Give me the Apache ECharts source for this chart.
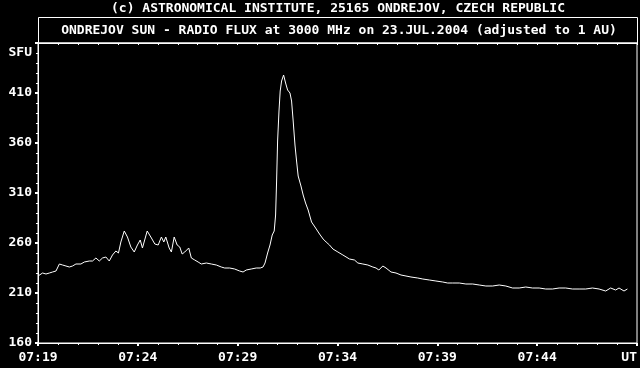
<!DOCTYPE html>
<html>
<head>
<meta charset="utf-8">
<script src="https://cdn.jsdelivr.net/npm/echarts@6/dist/echarts.min.js"></script>
<style>
html,body{margin:0;padding:0;background:#000;}
#chart{width:640px;height:368px;}
</style>
</head>
<body>
<div id="chart"></div>
<script>
// Minutes after 07:19 UT
var minutes = [0.00,0.23,0.40,0.57,0.73,0.90,1.07,1.23,1.40,1.57,1.73,1.90,2.15,2.32,2.57,2.73,2.90,3.07,3.23,3.40,3.57,3.73,3.90,4.03,4.15,4.32,4.48,4.65,4.82,4.98,5.12,5.23,5.47,5.68,5.85,6.02,6.18,6.30,6.40,6.57,6.68,6.82,6.97,7.10,7.22,7.35,7.55,7.68,7.85,8.02,8.18,8.43,8.68,8.93,9.18,9.35,9.60,9.85,10.10,10.27,10.43,10.68,10.93,11.13,11.27,11.37,11.50,11.62,11.73,11.83,11.90,11.95,12.00,12.07,12.13,12.20,12.30,12.40,12.50,12.62,12.70,12.78,12.87,12.95,13.03,13.17,13.28,13.40,13.53,13.70,13.87,14.10,14.28,14.43,14.60,14.77,15.02,15.27,15.60,15.85,16.02,16.27,16.52,16.77,16.93,17.07,17.27,17.43,17.68,17.93,18.18,18.43,18.68,19.02,19.27,19.60,19.93,20.27,20.52,20.77,21.10,21.43,21.77,22.10,22.43,22.77,23.10,23.43,23.77,24.10,24.43,24.77,25.10,25.43,25.77,26.10,26.43,26.77,27.10,27.43,27.77,28.10,28.43,28.68,28.93,29.10,29.35,29.52];
// Radio flux, SFU
var flux = [227,230,229,230,231,232,239,238,237,236,237,239,239,241,242,242,245,242,245,246,242,248,252,250,261,272,266,256,251,258,263,255,272,265,259,258,266,261,266,255,251,266,258,256,249,251,255,245,243,241,239,240,239,238,236,235,235,234,232,231,233,234,235,235,236,240,250,258,268,272,288,322,362,392,412,422,428,420,413,410,402,382,358,342,327,317,308,300,293,281,276,269,264,261,258,254,251,248,244,243,240,239,238,236,235,233,237,235,231,230,228,227,226,225,224,223,222,221,220,220,220,219,219,218,217,217,218,217,215,215,216,215,215,214,214,215,215,214,214,214,215,214,212,215,213,215,212,214];
var xTickLabels = ['07:19','07:24','07:29','07:34','07:39','07:44','UT'];
var yTickLabels = ['160','210','260','310','360','410'];
var titleTop = '(c) ASTRONOMICAL INSTITUTE, 25165 ONDREJOV, CZECH REPUBLIC';
var titleBox = 'ONDREJOV SUN - RADIO FLUX at 3000 MHz on 23.JUL.2004 (adjusted to 1 AU)';
var unitLabel = 'SFU';

var FONT = 'DejaVu Sans Mono';
var chart = echarts.init(document.getElementById('chart'), null, {renderer:'canvas'});
var data = minutes.map(function(m,i){return [m, flux[i]];});
var white = '#ffffff';

chart.setOption({
  backgroundColor: '#000000',
  animation: false,
  grid: {left:38, right:2, top:43, bottom:25, show:true, borderColor:white, borderWidth:1, backgroundColor:'transparent'},
  graphic: [
    {type:'text', x:338, y:9, style:{text:titleTop, fill:white, font:'bold 13px "DejaVu Sans Mono"', align:'center', verticalAlign:'middle', textAlign:'center', textVerticalAlign:'middle'}},
    {type:'rect', shape:{x:38.5, y:17.5, width:599, height:25.5}, style:{stroke:white, fill:'none', lineWidth:1}},
    {type:'text', x:339, y:31, style:{text:titleBox, fill:white, font:'bold 13px "DejaVu Sans Mono"', align:'center', verticalAlign:'middle', textAlign:'center', textVerticalAlign:'middle'}},
    {type:'text', x:32, y:53, style:{text:unitLabel, fill:white, font:'bold 13px "DejaVu Sans Mono"', align:'right', verticalAlign:'middle', textAlign:'right', textVerticalAlign:'middle'}}
  ],
  xAxis: [
    {type:'value', min:0, max:30, interval:5, position:'bottom',
     axisLine:{show:true, lineStyle:{color:white, width:1}},
     axisTick:{show:true, inside:false, length:3, lineStyle:{color:white, width:2}},
     minorTick:{show:true, splitNumber:5, length:2, lineStyle:{color:white, width:1}},
     splitLine:{show:false},
     axisLabel:{color:white, fontFamily:FONT, fontWeight:'bold', fontSize:13, margin:8, alignMaxLabel:'right',
       formatter:function(v){return xTickLabels[Math.round(v/5)] || '';}}},
    {type:'value', min:0, max:30, interval:1, position:'top',
     axisLine:{show:true, lineStyle:{color:white, width:1}},
     axisTick:{show:true, inside:true, length:2, lineStyle:{color:white, width:1}},
     splitLine:{show:false}, axisLabel:{show:false}}
  ],
  yAxis: [
    {type:'value', min:160, max:460, interval:50, position:'left',
     axisLine:{show:true, lineStyle:{color:white, width:1}},
     axisTick:{show:true, inside:false, length:3, lineStyle:{color:white, width:2}},
     minorTick:{show:true, splitNumber:5, length:2, lineStyle:{color:white, width:1}},
     splitLine:{show:false},
     axisLabel:{color:white, fontFamily:FONT, fontWeight:'bold', fontSize:13, margin:6,
       formatter:function(v){var i=Math.round((v-160)/50); return yTickLabels[i] || '';}}},
    {type:'value', min:160, max:460, interval:50, position:'right',
     axisLine:{show:true, lineStyle:{color:white, width:1}},
     axisTick:{show:false}, splitLine:{show:false}, axisLabel:{show:false}}
  ],
  series: [{
    type:'line', data:data, xAxisIndex:0, yAxisIndex:0,
    showSymbol:false, symbol:'none', smooth:false,
    lineStyle:{color:white, width:1}
  }]
});
</script>
</body>
</html>
